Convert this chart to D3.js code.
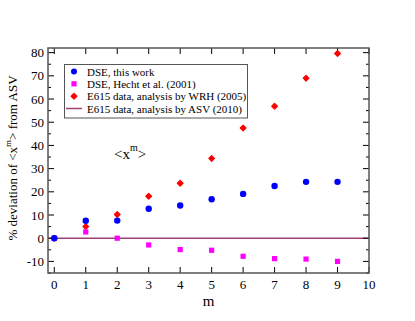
<!DOCTYPE html>
<html>
<head>
<meta charset="utf-8">
<script src="https://cdn.jsdelivr.net/npm/d3@7"></script>
<style>
  body { margin: 0; background: #fff; }
  svg text { font-family: "Liberation Serif", "DejaVu Serif", serif; fill: #000; }
</style>
</head>
<body>
<svg id="chart" width="415" height="321"></svg>
<script>
// Data
const moments = [0, 1, 2, 3, 4, 5, 6, 7, 8, 9];
const dseThisWork = [0, 7.5, 7.6, 12.7, 14.1, 16.8, 19.1, 22.5, 24.3, 24.3];
const dseHecht = [0, 2.7, 0, -2.9, -4.9, -5.2, -7.8, -8.8, -9.0, -10.0];
const e615WRH = [0, 5.0, 10.2, 18.1, 23.7, 34.4, 47.5, 56.9, 69.0, 79.6];
const asvLine = [0, 0];
const xTicks = [0, 1, 2, 3, 4, 5, 6, 7, 8, 9, 10];
const yTicks = [-10, 0, 10, 20, 30, 40, 50, 60, 70, 80];
const legendLabels = [
  "DSE, this work",
  "DSE, Hecht et al. (2001)",
  "E615 data, analysis by WRH (2005)",
  "E615 data, analysis by ASV (2010)"
];

const svg = d3.select("#chart");
const pLeft = 48, pRight = 369, pTop = 48, pBottom = 273;

const x = d3.scaleLinear().domain([-0.2, 10]).range([pLeft, pRight]);
const y = d3.scaleLinear().domain([-15, 82]).range([pBottom, pTop]);

const blue = "#0000ff", magenta = "#ff00ff", red = "#ff0000", lineCol = "#a0407a";

// reference line at 0
svg.append("line")
  .attr("x1", x(-0.2)).attr("x2", x(10))
  .attr("y1", y(asvLine[0])).attr("y2", y(asvLine[1]))
  .attr("stroke", lineCol).attr("stroke-width", 1.5);

// ticks (inward, on all four sides)
const tickG = svg.append("g").attr("stroke", "#000").attr("stroke-width", 1);
xTicks.forEach(t => {
  tickG.append("line").attr("x1", x(t)).attr("x2", x(t)).attr("y1", pBottom).attr("y2", pBottom - 6);
  tickG.append("line").attr("x1", x(t)).attr("x2", x(t)).attr("y1", pTop).attr("y2", pTop + 6);
});
d3.range(-15, 81, 5).forEach(t => {
  const len = t % 10 === 0 ? 6 : 3;
  tickG.append("line").attr("x1", pLeft).attr("x2", pLeft + len).attr("y1", y(t)).attr("y2", y(t));
  tickG.append("line").attr("x1", pRight).attr("x2", pRight - len).attr("y1", y(t)).attr("y2", y(t));
});

// frame
svg.append("rect")
  .attr("x", pLeft).attr("y", pTop)
  .attr("width", pRight - pLeft).attr("height", pBottom - pTop)
  .attr("fill", "none").attr("stroke", "#555").attr("stroke-width", 1.5);

// tick labels
svg.append("g").selectAll("text")
  .data(xTicks).join("text")
  .attr("x", d => x(d)).attr("y", 289)
  .attr("text-anchor", "middle").attr("font-size", 13)
  .text(d => d);
svg.append("g").selectAll("text")
  .data(yTicks).join("text")
  .attr("x", 44).attr("y", d => y(d) + 4.5)
  .attr("text-anchor", "end").attr("font-size", 13)
  .text(d => d);

// axis titles
svg.append("text")
  .attr("x", x(4.9)).attr("y", 306)
  .attr("text-anchor", "middle").attr("font-size", 15)
  .text("m");
const ylab = svg.append("text")
  .attr("transform", "translate(17,158) rotate(-90)")
  .attr("text-anchor", "middle").attr("font-size", 13);
ylab.append("tspan").text("% deviation of <x");
ylab.append("tspan").attr("dy", -6).attr("font-size", 9).text("m");
ylab.append("tspan").attr("dy", 6).text("> from ASV");

// annotation
const ann = svg.append("text").attr("x", 114).attr("y", 159).attr("font-size", 15);
ann.append("tspan").text("<x");
ann.append("tspan").attr("dy", -8).attr("font-size", 10).text("m");
ann.append("tspan").attr("dy", 8).text(">");

// markers
const diamond = d3.symbol().type(d3.symbolDiamond2).size(20);
svg.append("g").selectAll("path")
  .data(moments).join("path")
  .attr("transform", (d, i) => `translate(${x(d)},${y(e615WRH[i])})`)
  .attr("d", diamond).attr("fill", red).attr("stroke", red).attr("stroke-width", 1.3).attr("stroke-linejoin", "round");
svg.append("g").selectAll("rect")
  .data(moments).join("rect")
  .attr("x", d => x(d) - 2.6).attr("y", (d, i) => y(dseHecht[i]) - 2.6)
  .attr("width", 5.2).attr("height", 5.2).attr("fill", magenta);
svg.append("g").selectAll("circle")
  .data(moments).join("circle")
  .attr("cx", d => x(d)).attr("cy", (d, i) => y(dseThisWork[i]))
  .attr("r", 3.2).attr("fill", blue);

// legend
const lg = svg.append("g");
lg.append("rect").attr("x", 64.5).attr("y", 64.5).attr("width", 183).attr("height", 53.5)
  .attr("fill", "#fff").attr("stroke", "#555").attr("stroke-width", 1);
const rowY = [71.5, 83.8, 96.2, 108.5];
lg.append("circle").attr("cx", 74).attr("cy", rowY[0]).attr("r", 3).attr("fill", blue);
lg.append("rect").attr("x", 71.4).attr("y", rowY[1] - 2.6).attr("width", 5.2).attr("height", 5.2).attr("fill", magenta);
lg.append("path").attr("transform", `translate(74,${rowY[2]})`).attr("d", diamond)
  .attr("fill", red).attr("stroke", red).attr("stroke-width", 1.3).attr("stroke-linejoin", "round");
lg.append("line").attr("x1", 66).attr("x2", 82).attr("y1", rowY[3]).attr("y2", rowY[3])
  .attr("stroke", lineCol).attr("stroke-width", 1.5);
lg.selectAll("text.lab")
  .data(legendLabels).join("text")
  .attr("class", "lab")
  .attr("x", 87).attr("y", (d, i) => rowY[i] + 4)
  .attr("font-size", 11)
  .text(d => d);
</script>
</body>
</html>
